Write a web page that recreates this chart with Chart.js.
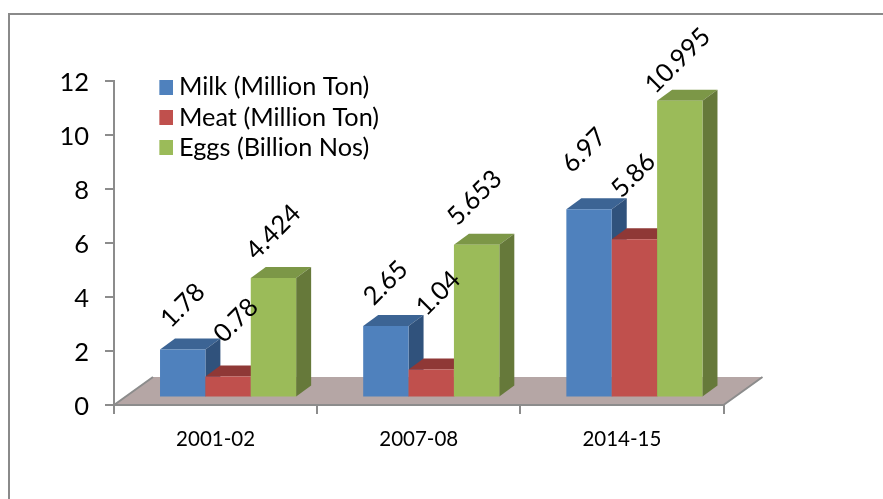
<!DOCTYPE html>
<html><head><meta charset="utf-8">
<style>html,body{margin:0;padding:0;background:#fff}#w{position:relative;width:883px;height:499px;overflow:hidden}
#f{position:absolute;left:8px;top:13px;width:900px;height:600px;border:2px solid #8a8a8a;box-sizing:border-box}
canvas{position:absolute;left:0;top:0}</style>
<script src="https://cdn.jsdelivr.net/npm/chart.js@4"></script></head>
<body><div id="w"><div id="f"></div><canvas id="c" width="883" height="499"></canvas></div>
<script>
const categories = ['2001-02','2007-08','2014-15'];
const milk = [1.78,2.65,6.97];
const meat = [0.78,1.04,5.86];
const eggs = [4.424,5.653,10.995];
const yTicks = [0,2,4,6,8,10,12];
const font = 'Lato, Carlito, sans-serif';
const labelNudges = [[[0,-44],[8,-56],[0,-46]],[[0,-43],[7,-76],[-2,-47]],[[-5,-59],[-1,-64],[-2,-40]]];
const faces = [{front:'#4F81BD',top:'#3C6494',side:'#30527C'},{front:'#C0504D',top:'#8F3836',side:'#7A302E'},{front:'#9BBB59',top:'#7C9747',side:'#66793A'}];
const axisColor = '#8C8C8C';
const frontShift = {x:12.5,y:-7.5}, barDepth = {x:15,y:-11}, floorDepth = {x:39,y:-28};

function poly(ctx,pts,fill){ctx.beginPath();pts.forEach((p,i)=>i?ctx.lineTo(p[0],p[1]):ctx.moveTo(p[0],p[1]));ctx.closePath();ctx.fillStyle=fill;ctx.fill();}
function swatch(color){const c=document.createElement('canvas');c.width=15;c.height=15;const x=c.getContext('2d');x.fillStyle=color;x.fillRect(0,0,15,15);return c;}

const bar3d = {
  id:'bar3d',
  beforeDraw(chart){
    const l=chart.legend; l.left=159.35; l.right=520; l.top=69.5; l.bottom=405;
  },
  beforeDatasetsDraw(chart){
    const ctx=chart.ctx, a=chart.chartArea;
    ctx.save();
    poly(ctx,[[a.left,a.bottom],[a.right,a.bottom],[a.right+floorDepth.x,a.bottom+floorDepth.y],[a.left+floorDepth.x,a.bottom+floorDepth.y]],'#B5A6A5');
    ctx.strokeStyle=axisColor;ctx.lineWidth=2;
    ctx.beginPath();ctx.moveTo(a.left,a.bottom);ctx.lineTo(a.right,a.bottom);ctx.moveTo(a.left,a.bottom);ctx.lineTo(a.left+floorDepth.x,a.bottom+floorDepth.y);ctx.moveTo(a.right,a.bottom);ctx.lineTo(a.right+floorDepth.x,a.bottom+floorDepth.y);ctx.stroke();
    ctx.translate(frontShift.x,frontShift.y);
    chart.data.datasets.forEach((ds,i)=>{
      const m=chart.getDatasetMeta(i), c=faces[i];
      m.data.forEach(b=>{
        const L=b.x-b.width/2,R=b.x+b.width/2,T=b.y,B=b.base,dx=barDepth.x,dy=barDepth.y;
        poly(ctx,[[L,T],[R,T],[R+dx,T+dy],[L+dx,T+dy]],c.top);
        poly(ctx,[[R,T],[R+dx,T+dy],[R+dx,B+dy],[R,B]],c.side);
      });
      m.controller.draw();
    });
    ctx.restore();
    ctx.save();
    ctx.font='25.5px '+font;ctx.fillStyle='#000';ctx.textAlign='center';ctx.textBaseline='middle';
    chart.data.datasets.forEach((ds,i)=>{
      chart.getDatasetMeta(i).data.forEach((b,j)=>{
        const n=labelNudges[j][i];
        ctx.save();ctx.translate(b.x+frontShift.x+n[0],b.y+frontShift.y+n[1]);ctx.rotate(-Math.PI/4);
        ctx.fillText(String(ds.data[j]),0,0);ctx.restore();
      });
    });
    ctx.restore();
    return false;
  }
};

new Chart(document.getElementById('c'),{
  type:'bar',
  data:{labels:categories,datasets:[
    {label:'Milk (Million Ton)',data:milk,backgroundColor:faces[0].front},
    {label:'Meat (Million Ton)',data:meat,backgroundColor:faces[1].front},
    {label:'Eggs (Billion Nos)',data:eggs,backgroundColor:faces[2].front}]},
  options:{
    responsive:false,animation:false,
    layout:{padding:{left:0,top:81,right:159.5,bottom:0}},
    categoryPercentage:0.67,barPercentage:1,
    plugins:{
      title:{display:false},tooltip:{enabled:false},
      legend:{position:'chartArea',align:'start',labels:{boxWidth:15,boxHeight:15,usePointStyle:true,pointStyleWidth:2,padding:5,color:'#000',font:{family:font,size:25.3},
        generateLabels(chart){const items=Chart.defaults.plugins.legend.labels.generateLabels(chart);items.forEach(it=>{it.pointStyle=swatch(faces[it.datasetIndex].front);});return items;}}}
    },
    scales:{
      x:{grid:{drawOnChartArea:false,color:axisColor,lineWidth:2,tickLength:9},border:{color:axisColor,width:2},
         ticks:{color:'#000',font:{family:font,size:20.5},padding:13,maxRotation:0},afterFit(s){s.height=94;}},
      y:{min:0,max:12,grid:{drawOnChartArea:false,color:axisColor,lineWidth:2,tickLength:9},border:{color:axisColor,width:2},
         afterBuildTicks(s){s.ticks=yTicks.map(v=>({value:v}));},
         ticks:{color:'#000',font:{family:font,size:25.5},padding:16,labelOffset:2},afterFit(s){s.width=114;}}
    }
  },
  plugins:[bar3d]
});
</script></body></html>
